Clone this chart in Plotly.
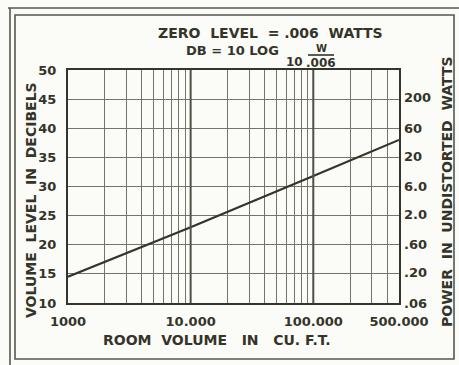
import numpy as np
import plotly.graph_objects as go

# Room volume (cu. ft.) vs. required volume level (dB re .006 W)
room_volume = [1000, 10000, 100000, 500000]
volume_level_db = [14.5, 23.0, 31.8, 38.0]

# Axis tick labels
x_label_vals = [1000, 10000, 100000, 500000]
x_label_text = ["1000", "10.000", "100.000", "500.000"]
y_label_vals = [10, 15, 20, 25, 30, 35, 40, 45, 50]
power_watts = [0.06, 0.20, 0.60, 2.0, 6.0, 20, 60, 200]
power_text = [".06", ".20", ".60", "2.0", "6.0", "20", "60", "200"]
zero_level_w = 0.006

# Log grid: 1..9 multiples of each decade up to 500,000
grid_x = [m * 10 ** d for d in (3, 4, 5) for m in range(1, 10) if m * 10 ** d <= 500000]
grid_text = [x_label_text[x_label_vals.index(v)] if v in x_label_vals else "" for v in grid_x]

W, H = 459, 365
L, R, T, B = 68, 399, 70, 303
INK = "#34342a"
GRID = "#74746a"
DECADE = "#505046"
FRAME = "#57574c"
BG = "#fbfbf7"
FONT = "DejaVu Sans"


def px(x):
    return (x - L) / (R - L)


def py(y):
    return (B - y) / (B - T)


fig = go.Figure()
fig.add_trace(go.Scatter(
    x=room_volume, y=volume_level_db, mode="lines",
    line=dict(color=INK, width=2.2), showlegend=False, hoverinfo="skip",
))
# invisible trace to activate the right-hand power axis
fig.add_trace(go.Scatter(
    x=[room_volume[0]], y=[volume_level_db[0]], yaxis="y2", mode="markers",
    marker=dict(opacity=0), showlegend=False, hoverinfo="skip",
))

tick_font = dict(family=FONT, size=13, color=INK, weight="bold")

fig.update_layout(
    width=W, height=H,
    margin=dict(l=L, r=W - R, t=T, b=H - B),
    paper_bgcolor=BG, plot_bgcolor=BG,
    xaxis=dict(
        type="log", range=[np.log10(1000), np.log10(500000)],
        tickvals=grid_x, ticktext=grid_text, ticks="",
        showgrid=True, gridcolor=GRID, gridwidth=1.2,
        showline=True, linecolor=INK, linewidth=2, mirror=True,
        tickfont=tick_font, ticklabelstandoff=5, zeroline=False,
    ),
    yaxis=dict(
        range=[10, 50], tickvals=y_label_vals, ticks="",
        showgrid=True, gridcolor=GRID, gridwidth=1.2,
        showline=True, linecolor=INK, linewidth=2, mirror=True,
        tickfont=tick_font, ticklabelstandoff=7, zeroline=False,
    ),
    yaxis2=dict(
        overlaying="y", side="right", range=[10, 50],
        tickvals=[10 * np.log10(p / zero_level_w) for p in power_watts],
        ticktext=power_text, ticks="", showgrid=False, zeroline=False,
        tickfont=tick_font, ticklabelstandoff=4,
    ),
)

# heavier decade lines
for d in (10000, 100000):
    fig.add_shape(type="line", xref="x", yref="paper", x0=d, x1=d, y0=0, y1=1,
                  line=dict(color=DECADE, width=2))

# double-ruled border around the whole panel
frame = dict(xref="paper", yref="paper", line=dict(color=FRAME, width=1.6))
fig.add_shape(type="rect", x0=px(15), x1=px(454), y0=py(359), y1=py(15), **frame)
fig.add_shape(type="line", x0=px(8), x1=px(459), y0=py(8), y1=py(8), **frame)
fig.add_shape(type="line", x0=px(10), x1=px(10), y0=py(8), y1=py(365), **frame)

ann_font = dict(family=FONT, size=13, color=INK, weight="bold")


def note(text, x, y, size=13, angle=0):
    fig.add_annotation(
        text=text, x=px(x), y=py(y), xref="paper", yref="paper",
        showarrow=False, textangle=angle, xanchor="center", yanchor="middle",
        font=dict(ann_font, size=size),
    )


# heading and formula
note("ZERO  LEVEL  = .006  WATTS", 270, 33, size=14)
note("DB = 10 LOG", 232, 51, size=13)
note("10", 294, 62, size=12)
note(".006", 321, 63, size=12)
note("W", 321, 48, size=10)
fig.add_shape(type="line", xref="paper", yref="paper",
              x0=px(308), x1=px(334), y0=py(55), y1=py(55),
              line=dict(color=INK, width=1.6))

# axis titles
note("ROOM  VOLUME   IN   CU. F.T.", 217, 340, size=14)
note("VOLUME  LEVEL  IN  DECIBELS", 31, 200, size=14, angle=-90)
note("POWER  IN  UNDISTORTED  WATTS", 447, 191, size=14, angle=-90)

fig.write_html("out.html")
